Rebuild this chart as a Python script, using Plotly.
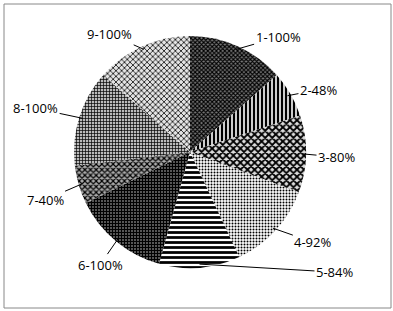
import math
import plotly.graph_objects as go

categories = ["1", "2", "3", "4", "5", "6", "7", "8", "9"]
values = [100, 48, 80, 92, 84, 100, 40, 100, 100]
labels = [f"{c}-{v}%" for c, v in zip(categories, values)]

# styling
shapes = ["x", "|", "x", ".", "-", "+", "x", "+", "x"]
sizes = [3, 4, 5, 3, 5, 3, 4, 3, 4]
solid = [0.6, 0.6, 0.6, 0.35, 0.55, 0.55, 0.5, 0.4, 0.35]
fgcols = ["black"] * 9
bgcols = ["#777777", "white", "#dddddd", "white", "white", "#555555", "#aaaaaa", "#bbbbbb", "#e4e4e4"]
# label offsets (pixels) from slice edge
offsets = [(42, -12), (31, -6), (34, 3), (40, 14), (135, 8),
           (-18, 26), (-37, 16), (-47, -10), (-34, -15)]

W, H = 393, 311
cx, cy, R = 190, 152, 116

fig = go.Figure(go.Pie(
    labels=labels, values=values, sort=False, direction="clockwise",
    rotation=0, textinfo="none", hoverinfo="label",
    showlegend=False,
    domain=dict(x=[(cx - R) / W, (cx + R) / W], y=[(H - cy - R) / H, (H - cy + R) / H]),
    marker=dict(
        colors=bgcols,
        line=dict(width=0),
        pattern=dict(shape=shapes, size=sizes, solidity=solid,
                     fgcolor=fgcols, bgcolor=bgcols, fillmode="replace"),
    ),
))

total = sum(values)
annotations = []
cum = 0
for i, v in enumerate(values):
    mid = (cum + v / 2) / total * 2 * math.pi
    cum += v
    px = cx + R * 0.97 * math.sin(mid)
    py = cy - R * 0.97 * math.cos(mid)
    annotations.append(dict(
        x=px / W, y=1 - py / H, xref="paper", yref="paper",
        text=labels[i], showarrow=True, arrowhead=0, arrowwidth=1,
        arrowcolor="black", ax=offsets[i][0], ay=offsets[i][1],
        font=dict(family="Open Sans", size=13, color="black"),
    ))

fig.update_layout(
    width=W, height=H, margin=dict(l=0, r=0, t=0, b=0),
    paper_bgcolor="white", plot_bgcolor="white",
    annotations=annotations,
    shapes=[dict(type="rect", xref="paper", yref="paper",
                 x0=4 / W, x1=391 / W, y0=1 - 308 / H, y1=1 - 4 / H,
                 line=dict(color="#888888", width=1))],
)

fig.write_html("out.html")
